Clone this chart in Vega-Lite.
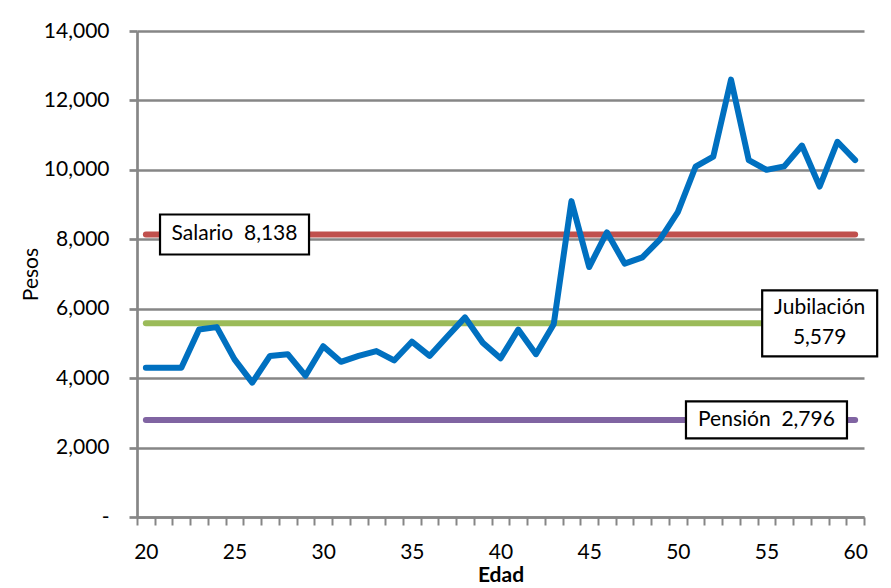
{
  "$schema": "https://vega.github.io/schema/vega-lite/v6.json",
  "width": 727,
  "height": 486,
  "autosize": "none",
  "padding": {"left": 137, "top": 31, "right": 27, "bottom": 71},
  "background": "white",
  "config": {"view": {"stroke": null}, "font": "Lato"},
  "datasets": {
    "sueldo": [
      {"age": 20, "value": 4300}, {"age": 21, "value": 4300}, {"age": 22, "value": 4300},
      {"age": 23, "value": 5400}, {"age": 24, "value": 5470}, {"age": 25, "value": 4540},
      {"age": 26, "value": 3870}, {"age": 27, "value": 4640}, {"age": 28, "value": 4690},
      {"age": 29, "value": 4070}, {"age": 30, "value": 4920}, {"age": 31, "value": 4470},
      {"age": 32, "value": 4640}, {"age": 33, "value": 4780}, {"age": 34, "value": 4510},
      {"age": 35, "value": 5050}, {"age": 36, "value": 4640}, {"age": 37, "value": 5200},
      {"age": 38, "value": 5750}, {"age": 39, "value": 5020}, {"age": 40, "value": 4570},
      {"age": 41, "value": 5400}, {"age": 42, "value": 4690}, {"age": 43, "value": 5550},
      {"age": 44, "value": 9100}, {"age": 45, "value": 7200}, {"age": 46, "value": 8200},
      {"age": 47, "value": 7300}, {"age": 48, "value": 7480}, {"age": 49, "value": 8000},
      {"age": 50, "value": 8780}, {"age": 51, "value": 10090}, {"age": 52, "value": 10380},
      {"age": 53, "value": 12600}, {"age": 54, "value": 10280}, {"age": 55, "value": 10000},
      {"age": 56, "value": 10100}, {"age": 57, "value": 10700}, {"age": 58, "value": 9520},
      {"age": 59, "value": 10810}, {"age": 60, "value": 10280}
    ],
    "referencias": [
      {"serie": "Salario", "age": 20, "value": 8138}, {"serie": "Salario", "age": 60, "value": 8138},
      {"serie": "Jubilación", "age": 20, "value": 5579}, {"serie": "Jubilación", "age": 60, "value": 5579},
      {"serie": "Pensión", "age": 20, "value": 2796}, {"serie": "Pensión", "age": 60, "value": 2796}
    ],
    "etiquetas": [
      {"serie": "Salario", "age": 25, "value": 8138, "texto": "Salario\u00a0 8,138"},
      {"serie": "Jubilación", "age": 58, "value": 5579, "texto": "Jubilación|5,579"},
      {"serie": "Pensión", "age": 55, "value": 2796, "texto": "Pensión\u00a0 2,796"}
    ]
  },
  "layer": [
    {
      "data": {"name": "referencias"},
      "mark": {"type": "line", "strokeWidth": 6, "strokeCap": "round"},
      "encoding": {
        "x": {
          "field": "age", "type": "ordinal", "title": "Edad",
          "scale": {"type": "band", "paddingInner": 0, "paddingOuter": 0,
            "domain": [20,21,22,23,24,25,26,27,28,29,30,31,32,33,34,35,36,37,38,39,40,41,42,43,44,45,46,47,48,49,50,51,52,53,54,55,56,57,58,59,60]},
          "axis": {
            "tickBand": "extent", "labelAngle": 0, "labelOverlap": false,
            "labelExpr": "datum.value % 5 == 0 ? datum.label : ''",
            "domainColor": "#868686", "domainWidth": 2.7,
            "tickColor": "#868686", "tickWidth": 2, "tickSize": 8,
            "labelFontSize": 21, "labelColor": "#000000", "labelPadding": 16,
            "titleFontSize": 21, "titleFontWeight": "bold", "titleColor": "#000000", "titlePadding": 2,
            "grid": false
          }
        },
        "y": {
          "field": "value", "type": "quantitative", "title": "Pesos",
          "scale": {"domain": [0, 14000], "nice": false, "zero": true},
          "axis": {
            "values": [0, 2000, 4000, 6000, 8000, 10000, 12000, 14000],
            "labelExpr": "datum.value == 0 ? '-\u00a0\u00a0\u00a0' : format(datum.value, ',')",
            "grid": true, "gridColor": "#868686", "gridWidth": 2.7,
            "domainColor": "#868686", "domainWidth": 2.7,
            "tickColor": "#868686", "tickWidth": 2.7, "tickSize": 8,
            "labelFontSize": 21, "labelColor": "#000000", "labelPadding": 20,
            "titleFontSize": 21, "titleFontWeight": "normal", "titleColor": "#000000", "titlePadding": 2
          }
        },
        "color": {
          "field": "serie", "type": "nominal",
          "scale": {"domain": ["Salario", "Jubilación", "Pensión"], "range": ["#C0504D", "#9BBB59", "#8064A2"]},
          "legend": null
        }
      }
    },
    {
      "data": {"name": "sueldo"},
      "mark": {"type": "line", "color": "#0070C0", "strokeWidth": 6, "strokeJoin": "round", "strokeCap": "round"},
      "encoding": {
        "x": {"field": "age", "type": "ordinal", "title": "Edad",
          "scale": {"type": "band", "paddingInner": 0, "paddingOuter": 0,
            "domain": [20,21,22,23,24,25,26,27,28,29,30,31,32,33,34,35,36,37,38,39,40,41,42,43,44,45,46,47,48,49,50,51,52,53,54,55,56,57,58,59,60]}},
        "y": {"field": "value", "type": "quantitative", "title": "Pesos", "scale": {"domain": [0, 14000], "nice": false, "zero": true}}
      }
    },
    {
      "data": {"name": "etiquetas"},
      "mark": {"type": "point", "size": 4, "fill": "white", "fillOpacity": 1, "stroke": "black", "strokeWidth": 2.2, "opacity": 1},
      "encoding": {
        "x": {"field": "age", "type": "ordinal", "title": "Edad",
          "scale": {"type": "band", "paddingInner": 0, "paddingOuter": 0,
            "domain": [20,21,22,23,24,25,26,27,28,29,30,31,32,33,34,35,36,37,38,39,40,41,42,43,44,45,46,47,48,49,50,51,52,53,54,55,56,57,58,59,60]}},
        "y": {"field": "value", "type": "quantitative", "title": "Pesos", "scale": {"domain": [0, 14000], "nice": false, "zero": true}},
        "shape": {
          "field": "serie", "type": "nominal",
          "scale": {"domain": ["Salario", "Jubilación", "Pensión"],
            "range": ["M-74.5,-20H74.5V20H-74.5Z", "M-57.5,-33H57.5V33H-57.5Z", "M-80.5,-18.5H80.5V18.5H-80.5Z"]},
          "legend": null
        }
      }
    },
    {
      "data": {"name": "etiquetas"},
      "transform": [{"filter": "datum.serie != 'Jubilación'"}],
      "mark": {"type": "text", "font": "Lato", "fontSize": 21, "color": "#000000", "align": "center", "baseline": "middle"},
      "encoding": {
        "x": {"field": "age", "type": "ordinal", "title": "Edad",
          "scale": {"type": "band", "paddingInner": 0, "paddingOuter": 0,
            "domain": [20,21,22,23,24,25,26,27,28,29,30,31,32,33,34,35,36,37,38,39,40,41,42,43,44,45,46,47,48,49,50,51,52,53,54,55,56,57,58,59,60]}},
        "y": {"field": "value", "type": "quantitative", "title": "Pesos", "scale": {"domain": [0, 14000], "nice": false, "zero": true}},
        "text": {"field": "texto", "type": "nominal"}
      }
    },
    {
      "data": {"name": "etiquetas"},
      "transform": [{"filter": "datum.serie == 'Jubilación'"}],
      "mark": {"type": "text", "font": "Lato", "fontSize": 21, "color": "#000000", "lineBreak": "|", "lineHeight": 30, "align": "center", "baseline": "middle", "dy": -15},
      "encoding": {
        "x": {"field": "age", "type": "ordinal", "title": "Edad",
          "scale": {"type": "band", "paddingInner": 0, "paddingOuter": 0,
            "domain": [20,21,22,23,24,25,26,27,28,29,30,31,32,33,34,35,36,37,38,39,40,41,42,43,44,45,46,47,48,49,50,51,52,53,54,55,56,57,58,59,60]}},
        "y": {"field": "value", "type": "quantitative", "title": "Pesos", "scale": {"domain": [0, 14000], "nice": false, "zero": true}},
        "text": {"field": "texto", "type": "nominal"}
      }
    }
  ]
}
